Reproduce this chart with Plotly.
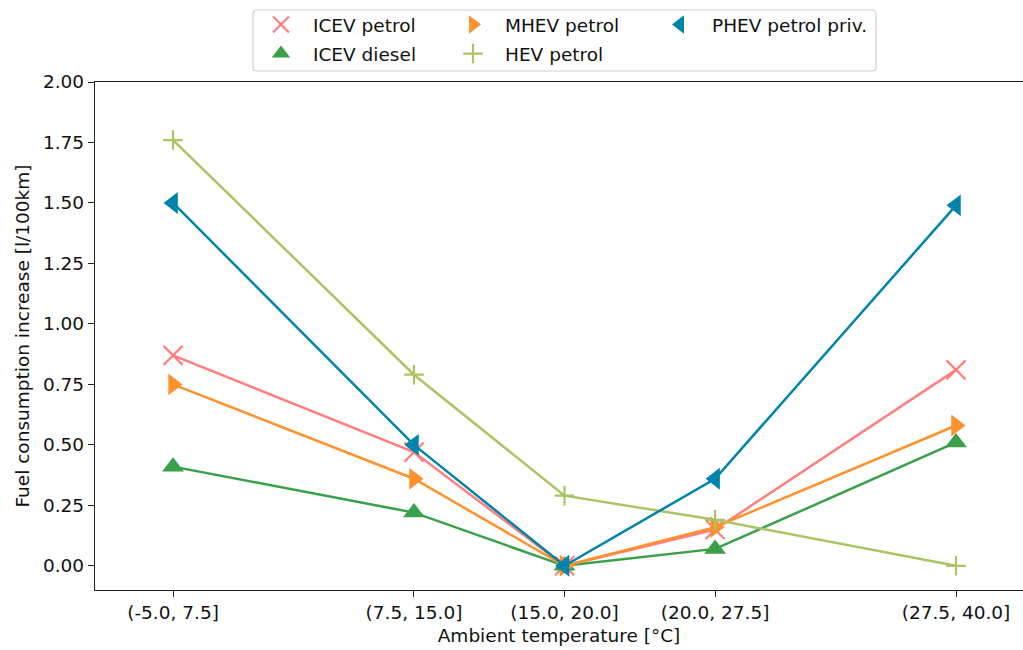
import plotly.graph_objects as go

# Temperature bins (interval edges) and their labels
bin_edges = [-5.0, 7.5, 15.0, 20.0, 27.5, 40.0]
bin_labels = ["(-5.0, 7.5]", "(7.5, 15.0]", "(15.0, 20.0]", "(20.0, 27.5]", "(27.5, 40.0]"]

# Fuel consumption increase per bin [l/100km]
icev_petrol = [0.87, 0.47, 0.00, 0.15, 0.81]
icev_diesel = [0.41, 0.22, 0.00, 0.07, 0.51]
mhev_petrol = [0.75, 0.36, 0.00, 0.16, 0.58]
hev_petrol = [1.76, 0.79, 0.29, 0.19, 0.00]
phev_petrol_priv = [1.50, 0.50, 0.00, 0.36, 1.49]

# Bin midpoints used as x positions
x_mid = [(a + b) / 2 for a, b in zip(bin_edges[:-1], bin_edges[1:])]

FONT = "DejaVu Sans"
FS = 18.5
TXT = "#111111"

# plot area in pixels (figure is 1023 x 650)
L, R, T, B = 95, 1023, 82, 590
W_PX, H_PX = R - L, B - T


def px_x(px):
    return (px - L) / W_PX


def px_y(py):
    return (B - py) / H_PX


series = [
    # name, values, colour, symbol, size, thin, legend id, legend marker centre (px)
    ("ICEV petrol", icev_petrol, "#ff7f7f", "x-thin", 19, True, "legend", (281, 25)),
    ("ICEV diesel", icev_diesel, "#38a048", "triangle-up", 19, False, "legend2", (281, 54)),
    ("MHEV petrol", mhev_petrol, "#ff922e", "triangle-right", 19, False, "legend3", (473, 25)),
    ("HEV petrol", hev_petrol, "#abc462", "cross-thin", 14, True, "legend4", (473, 54)),
    ("PHEV petrol priv.", phev_petrol_priv, "#0084ab", "triangle-left", 19, False, "legend5", (680, 25)),
]

fig = go.Figure()
legend_layout = {}
for name, vals, col, sym, size, thin, leg, (lx, ly) in series:
    marker = dict(symbol=sym, size=size, color=col)
    marker["line"] = dict(color=col, width=2.2) if thin else dict(width=0)
    fig.add_trace(go.Scatter(
        x=x_mid, y=vals, name=name, mode="lines+markers",
        line=dict(color=col, width=2.5), marker=marker, showlegend=False,
    ))
    # marker-only legend entry
    fig.add_trace(go.Scatter(
        x=[None], y=[None], name=name, mode="markers", marker=marker,
        legend=leg, showlegend=True, hoverinfo="skip",
    ))
    legend_layout[leg] = dict(
        orientation="v", xanchor="left", yanchor="middle",
        x=px_x(lx - 32), y=px_y(ly),
        bgcolor="rgba(0,0,0,0)", borderwidth=0,
        font=dict(family=FONT, size=FS, color=TXT),
        itemwidth=54, itemsizing="trace",
    )

axis_common = dict(
    showgrid=False, zeroline=False, showline=True, linecolor="#222222",
    linewidth=1.3, ticks="outside", ticklen=6, tickwidth=1.3,
    tickcolor="#222222", tickfont=dict(family=FONT, size=FS, color=TXT),
)

fig.update_xaxes(
    **axis_common, mirror=True,
    range=[-1.99, 36.53], tickvals=x_mid, ticktext=bin_labels,
    title=dict(text="Ambient temperature [°C]", font=dict(family=FONT, size=FS, color=TXT), standoff=6),
)
fig.update_yaxes(
    **axis_common, mirror=False,
    range=[-0.1, 2.0], tickvals=[0, 0.25, 0.5, 0.75, 1.0, 1.25, 1.5, 1.75, 2.0],
    tickformat=".2f",
    title=dict(text="Fuel consumption increase [l/100km]", font=dict(family=FONT, size=FS, color=TXT), standoff=8),
)

# legend frame with rounded corners
x0, x1, y0, y1, r = 253, 876, 10, 71, 4
path = (
    f"M {px_x(x0 + r)},{px_y(y0)} L {px_x(x1 - r)},{px_y(y0)} "
    f"Q {px_x(x1)},{px_y(y0)} {px_x(x1)},{px_y(y0 + r)} "
    f"L {px_x(x1)},{px_y(y1 - r)} Q {px_x(x1)},{px_y(y1)} {px_x(x1 - r)},{px_y(y1)} "
    f"L {px_x(x0 + r)},{px_y(y1)} Q {px_x(x0)},{px_y(y1)} {px_x(x0)},{px_y(y1 - r)} "
    f"L {px_x(x0)},{px_y(y0 + r)} Q {px_x(x0)},{px_y(y0)} {px_x(x0 + r)},{px_y(y0)} Z"
)
fig.add_shape(type="path", path=path, xref="paper", yref="paper",
              line=dict(color="#d0d0d0", width=1.2), fillcolor="rgba(255,255,255,0.8)")

fig.update_layout(
    width=1023, height=650,
    margin=dict(l=L, r=1023 - R, t=T, b=650 - B),
    paper_bgcolor="white", plot_bgcolor="white",
    showlegend=True,
    **legend_layout,
)

fig.write_html("out.html")
